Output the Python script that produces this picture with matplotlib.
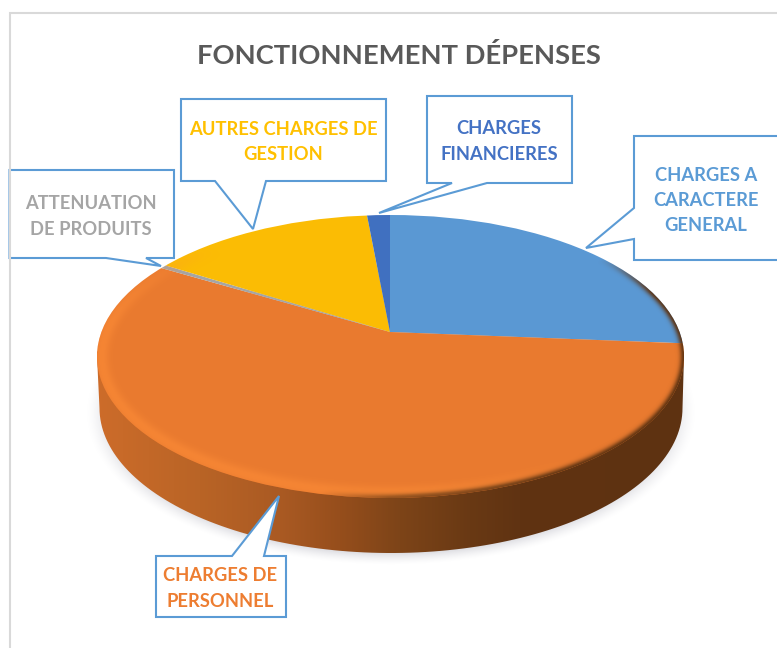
import numpy as np
import matplotlib
matplotlib.use('Agg')
import matplotlib.pyplot as plt
from matplotlib.patches import Ellipse, Polygon

# Data
categories = ['CHARGES A\nCARACTERE\nGENERAL', 'CHARGES DE\nPERSONNEL', 'ATTENUATION\nDE PRODUITS',
              'AUTRES CHARGES DE\nGESTION', 'CHARGES\nFINANCIERES']
values = [25.6, 53.7, 0.25, 17.3, 3.1]
slice_colors = ['#5a98d3', '#e97a2f', '#a5a5a5', '#fbbc04', '#4070c0']
text_colors = ['#5b9bd5', '#ed7d31', '#a5a5a5', '#ffc000', '#4472c4']
title = 'FONCTIONNEMENT DÉPENSES'

W, H = 777, 648
plt.rcParams['font.family'] = ['Lato', 'DejaVu Sans']

fig = plt.figure(figsize=(W / 100, H / 100), dpi=100, facecolor='white')
ax = fig.add_axes([0, 0, 1, 1])

# Geometry of the disc, in pixels
apex = (390, 332)
top_c, top_a, top_b = (390.5, 356.5), 293.5, 141.5
bot_c, bot_a, bot_b = (391, 408), 291.5, 145

yy, xx = np.mgrid[0:H, 0:W] + 0.5

# Soft shadow under the disc
sh_u = (xx - 391) / 293
sh_v = (yy - 413) / 146
sh_r = np.sqrt(sh_u**2 + sh_v**2)
sh_d = (1 - sh_r) * 146
sh = np.zeros((H, W, 4))
sh[..., :3] = (0.72, 0.72, 0.76)
sh[..., 3] = np.clip((sh_d + 6) / 14, 0, 1) ** 1.5 * 0.6
ax.imshow(sh, extent=(0, W, H, 0), zorder=1, interpolation='bilinear')

# Side wall with horizontal gradient
t = np.linspace(0, np.pi, 120)
lower_bot = np.c_[bot_c[0] + bot_a * np.cos(t), bot_c[1] + bot_b * np.sin(t)]
upper = [(top_c[0] - top_a, top_c[1]), (top_c[0] - top_a, top_c[1] - 5),
         (top_c[0] + top_a, top_c[1] - 5), (top_c[0] + top_a, top_c[1])]
wall = Polygon(np.r_[lower_bot, upper], closed=True, transform=ax.transData, fc='none', ec='none')
ax.add_patch(wall)
stops_x = [97, 200, 280, 340, 400, 470, 520, 690]
stops_r = [205, 185, 170, 150, 125, 105, 96, 94]
stops_g = [108, 100, 90, 78, 68, 57, 51, 50]
stops_b = [42, 38, 35, 28, 24, 20, 18, 17]
x_row = np.arange(W) + 0.5
grad = np.stack([np.interp(x_row, stops_x, stops_r),
                 np.interp(x_row, stops_x, stops_g),
                 np.interp(x_row, stops_x, stops_b)], axis=-1)[None, :, :] / 255
im = ax.imshow(grad, extent=(0, W, H, 0), aspect='auto', zorder=2)
im.set_clip_path(wall)

# Top surface: pie from the apex clipped to the ellipse
wedges, _ = ax.pie(values, colors=slice_colors, center=apex, radius=500,
                   startangle=-90, counterclock=True, frame=True,
                   wedgeprops=dict(linewidth=0))
top_clip = Ellipse(top_c, 2 * top_a, 2 * top_b, transform=ax.transData, fc='none', ec='none')
ax.add_patch(top_clip)
for w in wedges:
    w.set_zorder(3)
    w.set_clip_on(True)
    w.set_clip_path(top_clip)

# Bevel on the rim of the surface
u = (xx - top_c[0]) / top_a
v = (yy - top_c[1]) / top_b
r = np.maximum(np.sqrt(u**2 + v**2), 1e-6)
gx = u / top_a / r
gy = v / top_b / r
d = (1 - r) / np.sqrt(gx**2 + gy**2)
nx = u / r
ny = v / r
light = np.clip(-nx * 0.75 + ny * 0.65 + 0.05, 0, 1)
dark = np.clip(nx * 1.4 + ny * np.where(ny > 0, 0.6, 1.1) - 0.25, 0, 1)
light_a = np.exp(-((d - 5) / 7) ** 2) * np.clip(light * 1.6, 0, 1) * 0.55
dark_a = np.exp(-(np.maximum(d, 0) / 4) ** 2) * np.clip(dark * 2, 0, 1) * 0.95
bevel = np.zeros((H, W, 4))
mix = dark_a / np.maximum(dark_a + light_a, 1e-6)
bevel[..., 0] = (1 - mix) * 1.0 + mix * 0.37
bevel[..., 1] = (1 - mix) * 0.56 + mix * 0.20
bevel[..., 2] = (1 - mix) * 0.22 + mix * 0.07
bevel[..., 3] = np.clip(light_a + dark_a, 0, 1) * (d > -1.5)
bev = ax.imshow(bevel, extent=(0, W, H, 0), zorder=4, interpolation='bilinear')
bev.set_clip_path(top_clip)

ax.set_xlim(0, W)
ax.set_ylim(H, 0)
ax.set_aspect('auto')
ax.axis('off')

# Chart border, over the callouts
ax.plot([9.5, 9.5, W + 5], [H + 5, 12.5, 12.5], color='#d9d9d9', lw=1.5, zorder=6.5, solid_joinstyle='miter')


def callout(x0, y0, x1, y1, pointer, side='bottom'):
    (a, b, tip) = pointer
    if side == 'bottom':
        pts = [(x0, y0), (x1, y0), (x1, y1), (b, y1), tip, (a, y1), (x0, y1)]
    elif side == 'top':
        pts = [(x0, y0), (a, y0), tip, (b, y0), (x1, y0), (x1, y1), (x0, y1)]
    else:
        pts = [(x0, y0), (x1, y0), (x1, y1), (x0, y1), (x0, b), tip, (x0, a)]
    ax.add_patch(Polygon(pts, closed=True, fc='white', ec='#5b9bd5', lw=1.5, zorder=6, joinstyle='miter'))


callout(9.5, 170, 174, 258, (106, 146, (161, 266)))
callout(181, 99, 386, 181, (215, 266, (253, 229)))
callout(427, 96, 572, 183, (452, 487, (379, 213)))
callout(634, 136, W + 10, 260, (208, 239, (586, 248)), side='left')
callout(156, 556, 286, 617, (232, 264, (279, 496)), side='top')

label_pos = [(706, 200.5), (220, 588.5), (91, 216.5), (283, 142), (499, 141.5)]
for name, c, (lx, ly) in zip(categories, text_colors, label_pos):
    ax.text(lx, ly, name, color=c, fontsize=13.2, fontweight='bold', ha='center', va='center',
            linespacing=1.6, zorder=7)

ax.text(399, 55.5, title, color='#595959', fontsize=19.7, fontweight='bold', ha='center', va='center', zorder=7)

fig.savefig('out.png', dpi=100)
